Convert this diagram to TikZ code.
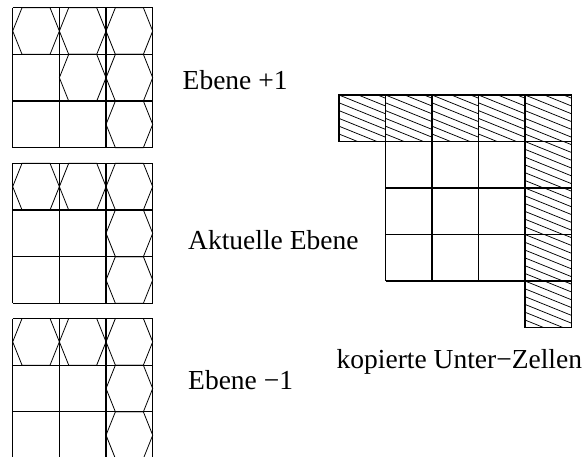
\documentclass[tikz,border=0pt]{standalone}
\usepackage{fontspec}
\setmainfont{Liberation Serif}

\tikzset{
  gridline/.style={line width=1.3pt, black},
  hexline/.style={line width=0.8pt, black},
  hatchline/.style={line width=0.75pt, black},
  txt/.style={anchor=base west, inner sep=0pt, font=\fontsize{27.5}{31}\selectfont},
}

% cell size of the three level grids and of the copied-cells frame
\def\cs{46.67}
\def\hs{46.5}

% one hexagon filling the cell whose top-left corner is (#1,#2)
\newcommand\hexincell[2]{%
  \draw[hexline] (#1,{#2+0.5*\cs}) -- ({#1+0.2*\cs},#2) -- ({#1+0.8*\cs},#2)
    -- ({#1+\cs},{#2+0.5*\cs}) -- ({#1+0.8*\cs},{#2+\cs}) -- ({#1+0.2*\cs},{#2+\cs}) -- cycle;
}

% a 3x3 level grid with top-left corner (#1,#2)
\newcommand\levelgrid[2]{%
  \foreach \i in {0,...,3} {
    \draw[gridline] ({#1+\i*\cs},#2) -- ++(0,{3*\cs});
    \draw[gridline] (#1,{#2+\i*\cs}) -- ++({3*\cs},0);
  }
}

% one hatched cell with top-left corner (#1,#2)
\newcommand\hatchcell[2]{%
  \begin{scope}
    \clip (#1,#2) rectangle ++(\hs,\hs);
    \foreach \k in {-3,...,6}
      \draw[hatchline] (#1,{#2+\k*7.8}) -- ++(\hs,{\hs*0.404});
  \end{scope}
  \draw[gridline] (#1,#2) rectangle ++(\hs,\hs);
}

\begin{document}
\begin{tikzpicture}[x=1pt,y=-1pt]
  \clip (0,0) rectangle (583,457);
  \useasboundingbox (0,0) rectangle (583,457);

  % level +1
  \foreach \c/\r in {0/0,1/0,2/0,1/1,2/1,2/2}
    {\hexincell{12.7+\c*\cs}{7.7+\r*\cs}}
  \levelgrid{12.7}{7.7}

  % current level
  \foreach \c/\r in {0/0,1/0,2/0,2/1,2/2}
    {\hexincell{12.7+\c*\cs}{163.3+\r*\cs}}
  \levelgrid{12.7}{163.3}

  % level -1
  \foreach \c/\r in {0/0,1/0,2/0,2/1,2/2}
    {\hexincell{12.7+\c*\cs}{318.5+\r*\cs}}
  \levelgrid{12.7}{318.5}

  % inner 3x3 block of the copied-cells frame
  \foreach \i in {0,...,3} {
    \draw[gridline] ({385.5+\i*\hs},141.5) -- ++(0,{3*\hs});
    \draw[gridline] (385.5,{141.5+\i*\hs}) -- ++({3*\hs},0);
  }
  % hatched top row and right column
  \foreach \c in {0,...,4}
    {\hatchcell{339+\c*\hs}{95}}
  \foreach \r in {1,...,4}
    {\hatchcell{339+4*\hs}{95+\r*\hs}}

  % captions
  \node[txt] (up)   at (182.5,89.3)  {Ebene +1};
  \node[txt] (cur)  at (188,249.3)   {Aktuelle Ebene};
  \node[txt] (down) at (188,389.3)   {Ebene −1};
  \node[txt] (copy) at (336.5,368.3) {kopierte Unter−Zellen};
\end{tikzpicture}
\end{document}
